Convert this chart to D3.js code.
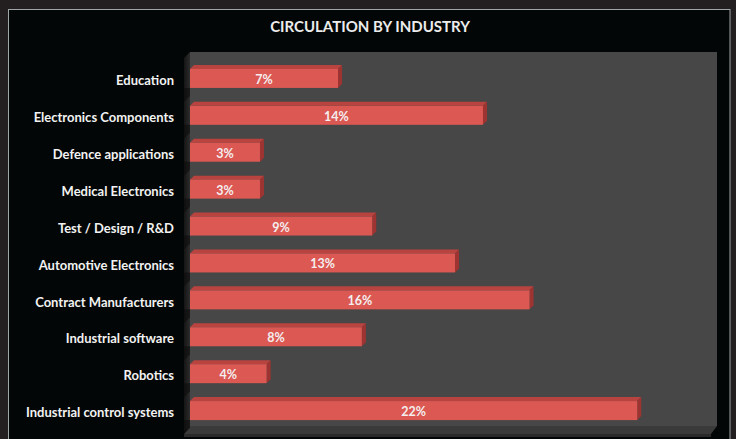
<!DOCTYPE html>
<html>
<head>
<meta charset="utf-8">
<script src="https://cdn.jsdelivr.net/npm/d3@7/dist/d3.min.js"></script>
<style>
  html, body { margin: 0; padding: 0; background: #231f20; }
  svg { display: block; }
</style>
</head>
<body>
<svg id="chart" width="736" height="439"></svg>
<script>
const categories = [
  "Education",
  "Electronics Components",
  "Defence applications",
  "Medical Electronics",
  "Test / Design / R&D",
  "Automotive Electronics",
  "Contract Manufacturers",
  "Industrial software",
  "Robotics",
  "Industrial control systems"
];
const values = [7.15, 14.15, 3.38, 3.38, 8.8, 12.8, 16.4, 8.3, 3.7, 21.6];
const valueLabels = ["7%", "14%", "3%", "3%", "9%", "13%", "16%", "8%", "4%", "22%"];
const title = "CIRCULATION BY INDUSTRY";

const W = 736, H = 439;
const svg = d3.select("#chart");
const font = "Lato, 'Open Sans', sans-serif";

// background panel
svg.append("rect").attr("x", 0).attr("y", 0).attr("width", W).attr("height", H).attr("fill", "#231f20");
svg.append("rect").attr("x", 8.5).attr("y", 9.5).attr("width", 721.5).attr("height", H + 10)
  .attr("fill", "#030606").attr("stroke", "#9ea6a6").attr("stroke-width", 1);

// plot geometry
const px0 = 190, px1 = 717, py0 = 52, py1 = 426;
const dep = 6; // 3D depth offset

const x = d3.scaleLinear().domain([0, 25.5]).range([px0, 718]);
const y = d3.scaleBand().domain(categories).range([52, 437]).paddingInner(0.485).paddingOuter(0.458);

// back wall
svg.append("rect").attr("x", px0).attr("y", py0).attr("width", px1 - px0).attr("height", py1 - py0)
  .attr("fill", "#474747");
// left wall
const lw = svg.append("defs").append("linearGradient").attr("id", "lw")
  .attr("x1", "0").attr("x2", "1").attr("y1", "0").attr("y2", "0");
lw.append("stop").attr("offset", "0").attr("stop-color", "#151515");
lw.append("stop").attr("offset", "1").attr("stop-color", "#2c2c2c");
svg.append("path")
  .attr("d", `M${px0},${py0} L${px0},${py1} L${px0 - dep},${py1 + dep} L${px0 - dep},${py0 + dep} Z`)
  .attr("fill", "url(#lw)");
// floor
svg.append("path")
  .attr("d", `M${px0},${py1} L${px1},${py1} L${px1 - dep},${py1 + dep + 2} L${px0 - dep},${py1 + dep + 2} Z`)
  .attr("fill", "#3a3a3a");
svg.append("rect").attr("x", px0 - dep).attr("y", py1 + dep + 2).attr("width", px1 - px0).attr("height", 3)
  .attr("fill", "#2a2a2a");

// bars
const bh = y.bandwidth();
const d = 4;
const g = svg.append("g");
categories.forEach((c, i) => {
  const x0 = x(0), x1 = x(values[i]), yt = y(c);
  // shadow on left wall
  g.append("path")
    .attr("d", `M${px0},${yt + bh} L${px0},${yt + bh + 8} L${px0 - dep},${yt + bh + 8 + dep} L${px0 - dep},${yt + bh}Z`)
    .attr("fill", "#0c0c0c").attr("opacity", 0.6);
  // top face
  g.append("path")
    .attr("d", `M${x0},${yt} L${x0 + d},${yt - d} L${x1 + d},${yt - d} L${x1},${yt} Z`)
    .attr("fill", "#b9433f");
  // side face
  g.append("path")
    .attr("d", `M${x1},${yt} L${x1 + d},${yt - d} L${x1 + d},${yt + bh - d} L${x1},${yt + bh} Z`)
    .attr("fill", "#9e3431");
  // front face
  g.append("rect").attr("x", x0).attr("y", yt).attr("width", x1 - x0).attr("height", bh)
    .attr("fill", "#db5853");
  // value label
  g.append("text").attr("x", (x0 + x1) / 2).attr("y", yt + bh / 2 + 1)
    .attr("dy", "0.36em").attr("text-anchor", "middle")
    .attr("font-family", font).attr("font-weight", "bold").attr("font-size", 12.5)
    .attr("fill", "#f4eeee").text(valueLabels[i]);
});

// category labels
svg.append("g").selectAll("text").data(categories).join("text")
  .attr("x", 174).attr("y", c => y(c) + bh / 2 + 2).attr("dy", "0.36em")
  .attr("text-anchor", "end").attr("font-family", font).attr("font-weight", "bold")
  .attr("font-size", 13).attr("fill", "#f2f2f2").text(c => c);

// title
svg.append("text").attr("x", 370).attr("y", 32).attr("text-anchor", "middle")
  .attr("font-family", font).attr("font-weight", "bold").attr("font-size", 15)
  .attr("fill", "#ececec").text(title);
</script>
</body>
</html>
